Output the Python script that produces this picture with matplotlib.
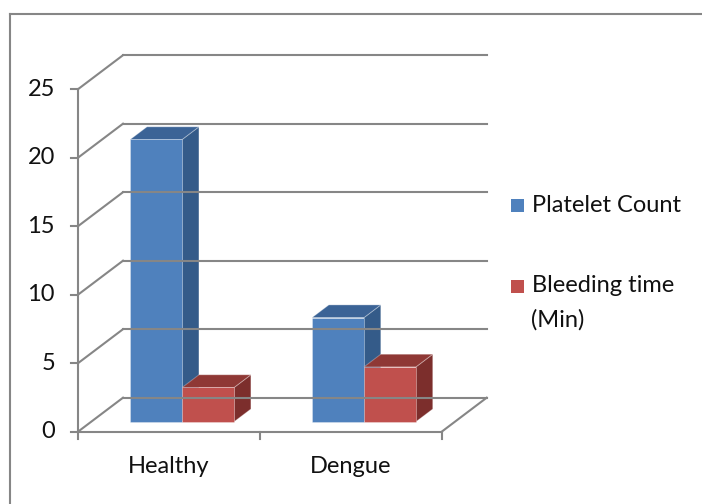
import matplotlib
matplotlib.use("Agg")
import matplotlib.pyplot as plt
from matplotlib.patches import Polygon, Rectangle
from matplotlib.lines import Line2D

categories = ["Healthy", "Dengue"]
series_names = ["Platelet Count", "Bleeding time\n(Min)"]
platelet_count = [20.6, 7.6]
bleeding_time = [2.5, 4.0]
y_ticks = [0, 5, 10, 15, 20, 25]

W, H, DPI = 702, 504, 100
plt.rcParams["font.family"] = ["Lato", "DejaVu Sans"]
FS = 17
TXT = "#111111"
GRID = "#868686"

fig = plt.figure(figsize=(W / DPI, H / DPI), dpi=DPI)
ax = fig.add_axes([0, 0, 1, 1])
ax.set_axis_off()

# plot box: category units across, value units up (front plane)
X0, X_PER_CAT = 78.0, 181.85
Y0, Y_PER_UNIT = 431.7, 13.7
ax.set_xlim(-X0 / X_PER_CAT, (W - X0) / X_PER_CAT)
ax.set_ylim(-(H - Y0) / Y_PER_UNIT, Y0 / Y_PER_UNIT)

# oblique depth offset of the back wall
DX = 45.0 / X_PER_CAT
DY = 34.0 / Y_PER_UNIT
n_cat = len(categories)
y_max = y_ticks[-1]


def proj(u, v, d):
    return (u + d * DX, v + d * DY)


def seg(p, q, **kw):
    ax.add_line(Line2D([p[0], q[0]], [p[1], q[1]], color=GRID, lw=1.5, **kw))


# side wall, back wall and floor
for v in y_ticks:
    seg(proj(0, v, 0), proj(0, v, 1))
    seg(proj(0, v, 1), proj(n_cat, v, 1))
seg(proj(n_cat, 0, 0), proj(n_cat, 0, 1))
seg(proj(0, 0, 0), proj(n_cat, 0, 0))

# value axis with ticks and labels
seg((0, 0), (0, y_max))
tick_u = 7.0 / X_PER_CAT
for v in y_ticks:
    seg((-tick_u, v), (0, v))
    ax.text(-23.0 / X_PER_CAT, v, str(v), ha="right", va="center",
            fontsize=FS, color=TXT)

# category axis ticks and labels
tick_v = 7.0 / Y_PER_UNIT
for i in range(n_cat + 1):
    seg((i, 0), (i, -tick_v))
for i, c in enumerate(categories):
    ax.text(i + 0.5, -41.0 / Y_PER_UNIT, c, ha="center", va="baseline",
            fontsize=FS, color=TXT)

# 3D bars
F0, F1 = 0.294, 0.667
gap = 1.5
bw = 1.0 / (2 + gap)
palette = [
    ("#4F81BD", "#3B6396", "#345B89"),
    ("#C0504D", "#8F3835", "#7C2E2C"),
]
series = [platelet_count, bleeding_time]


def bar(u0, u1, val, cols):
    front, top, side = cols
    faces = [
        ([proj(u1, 0, F0), proj(u1, 0, F1), proj(u1, val, F1), proj(u1, val, F0)], side),
        ([proj(u0, val, F0), proj(u1, val, F0), proj(u1, val, F1), proj(u0, val, F1)], top),
        ([proj(u0, 0, F0), proj(u1, 0, F0), proj(u1, val, F0), proj(u0, val, F0)], front),
    ]
    for pts, col in faces:
        ax.add_patch(Polygon(pts, closed=True, facecolor=col,
                             edgecolor=(1, 1, 1, 0.3), lw=0.7, joinstyle="miter"))


for i in range(n_cat):
    for s, vals in enumerate(series):
        u0 = i + gap / 2 * bw + s * bw
        bar(u0, u0 + bw, vals[i], palette[s])

# legend
leg_rows = [205.0, 286.0]
for cols, name, y in zip(palette, series_names, leg_rows):
    fig.add_artist(Rectangle((510.5 / W, 1 - (y + 6.5) / H), 13 / W, 13 / H,
                             transform=fig.transFigure, facecolor=cols[0],
                             edgecolor="none"))
    for k, ln in enumerate(name.split("\n")):
        fig.text(531.5 / W, 1 - (y + 34 * k) / H, ln, ha="left", va="center",
                 fontsize=FS, color=TXT)

# chart frame
fig.add_artist(Line2D([9.5 / W, 9.5 / W], [0, 1 - 13.5 / H], transform=fig.transFigure,
                      color=GRID, lw=1.5))
fig.add_artist(Line2D([9.5 / W, 1], [1 - 13.5 / H, 1 - 13.5 / H], transform=fig.transFigure,
                      color=GRID, lw=1.5))

fig.savefig("out.png", dpi=DPI, facecolor="white")
